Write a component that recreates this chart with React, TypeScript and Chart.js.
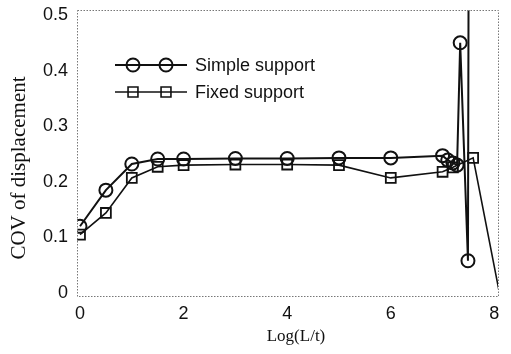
import React, { useEffect, useRef } from "react";
import { Chart, registerables } from "chart.js";

Chart.register(...registerables);

// ---- data ----
const seriesNames = ["Simple support", "Fixed support"];
const simpleX = [0, 0.5, 1, 1.5, 2, 3, 4, 5, 6, 7, 7.1, 7.2, 7.28, 7.34, 7.49, 7.51];
const simpleY = [0.12, 0.185, 0.232, 0.241, 0.241, 0.242, 0.242, 0.243, 0.243, 0.247, 0.239, 0.234, 0.23, 0.45, 0.058, 0.9];
const fixedX = [0, 0.5, 1, 1.5, 2, 3, 4, 5, 6, 7, 7.2, 7.59, 8.15];
const fixedY = [0.105, 0.144, 0.207, 0.227, 0.23, 0.231, 0.231, 0.23, 0.207, 0.218, 0.226, 0.243, -0.025];
const xTicks = [0, 2, 4, 6, 8];
const yTicks = [0, 0.1, 0.2, 0.3, 0.4, 0.5];
const xTitle = "Log(L/t)";
const yTitle = "COV of displacement";

const INK = "#111";

function drawMarker(ctx: CanvasRenderingContext2D, style: string, x: number, y: number, r: number) {
  ctx.beginPath();
  if (style === "circle") {
    ctx.arc(x, y, r, 0, Math.PI * 2);
  } else {
    const s = r * Math.SQRT1_2;
    ctx.rect(x - s, y - s, 2 * s, 2 * s);
  }
  ctx.stroke();
}

const decorPlugin = {
  id: "decor",
  afterDraw(chart: any) {
    const ctx: CanvasRenderingContext2D = chart.ctx;
    const a = chart.chartArea;
    ctx.save();
    // dotted frame
    ctx.strokeStyle = "#777";
    ctx.lineWidth = 1;
    ctx.setLineDash([1.5, 1.5]);
    ctx.strokeRect(Math.round(a.left) + 0.5, Math.round(a.top) + 0.5, Math.round(a.right - a.left), Math.round(a.bottom - a.top));
    ctx.setLineDash([]);

    // legend
    const styles = ["circle", "rect"];
    const radii = [6.5, 7];
    const widths = [2, 1.6];
    seriesNames.forEach((name, i) => {
      const ly = 65 + i * 27;
      ctx.strokeStyle = INK;
      ctx.lineWidth = widths[i];
      ctx.beginPath();
      ctx.moveTo(115, ly);
      ctx.lineTo(187, ly);
      ctx.stroke();
      drawMarker(ctx, styles[i], 133, ly, radii[i]);
      drawMarker(ctx, styles[i], 166, ly, radii[i]);
      ctx.fillStyle = INK;
      ctx.font = '18px "Liberation Sans", Arial, sans-serif';
      ctx.textAlign = "left";
      ctx.textBaseline = "middle";
      ctx.fillText(name, 195, ly + 1);
    });

    // axis titles
    ctx.fillStyle = INK;
    ctx.font = '17px "Liberation Serif", "Times New Roman", serif';
    ctx.textAlign = "center";
    ctx.textBaseline = "middle";
    ctx.fillText(xTitle, 296, 337);

    ctx.translate(19, 168);
    ctx.rotate(-Math.PI / 2);
    ctx.font = '21px "Liberation Serif", "Times New Roman", serif';
    ctx.fillText(yTitle, 0, 0);
    ctx.restore();
  },
};

export default function App() {
  const ref = useRef<HTMLCanvasElement | null>(null);

  useEffect(() => {
    if (!ref.current) return;
    const chart = new Chart(ref.current, {
      type: "line",
      data: {
        datasets: [
          {
            label: seriesNames[0],
            data: simpleX.map((x, i) => ({ x, y: simpleY[i] })),
            borderColor: INK,
            borderWidth: 2,
            pointStyle: "circle",
            pointRadius: 6.5,
            pointBorderWidth: 2,
            pointBorderColor: INK,
            pointBackgroundColor: "rgba(0,0,0,0)",
            tension: 0,
            fill: false,
          },
          {
            label: seriesNames[1],
            data: fixedX.map((x, i) => ({ x, y: fixedY[i] })),
            borderColor: INK,
            borderWidth: 1.6,
            pointStyle: "rect",
            pointRadius: 7,
            pointBorderWidth: 1.8,
            pointBorderColor: INK,
            pointBackgroundColor: "rgba(0,0,0,0)",
            tension: 0,
            fill: false,
          },
        ],
      },
      options: {
        animation: false,
        responsive: false,
        maintainAspectRatio: false,
        layout: { padding: { left: 0, top: 10, right: 13, bottom: 0 } },
        plugins: {
          legend: { display: false },
          tooltip: { enabled: false },
          title: { display: false },
        },
        scales: {
          x: {
            type: "linear",
            min: -0.058,
            max: 8.07,
            grid: { display: false, drawTicks: false },
            border: { display: false },
            afterBuildTicks: (s: any) => {
              s.ticks = xTicks.map((v) => ({ value: v }));
            },
            afterFit: (s: any) => {
              s.height = 58;
              s.paddingLeft = 0;
              s.paddingRight = 0;
            },
            ticks: {
              autoSkip: false,
              maxRotation: 0,
              padding: 7,
              color: INK,
              font: { family: '"Liberation Sans", Arial, sans-serif', size: 18 },
              callback: (v: any) => String(v),
            },
          },
          y: {
            type: "linear",
            min: -0.0054,
            max: 0.509,
            grid: { display: false, drawTicks: false },
            border: { display: false },
            afterBuildTicks: (s: any) => {
              s.ticks = yTicks.map((v) => ({ value: v }));
            },
            afterFit: (s: any) => {
              s.width = 77;
              s.paddingTop = 0;
              s.paddingBottom = 0;
            },
            ticks: {
              autoSkip: false,
              padding: 9,
              color: INK,
              font: { family: '"Liberation Sans", Arial, sans-serif', size: 18 },
              callback: (v: any) => (v === 0 ? "0" : Number(v).toFixed(1)),
            },
          },
        },
      },
      plugins: [decorPlugin],
    });
    return () => chart.destroy();
  }, []);

  return (
    <div style={{ position: "absolute", left: 0, top: 0, width: 511, height: 354, background: "#fff" }}>
      <canvas ref={ref} width={511} height={354} style={{ display: "block", width: 511, height: 354 }} />
    </div>
  );
}
